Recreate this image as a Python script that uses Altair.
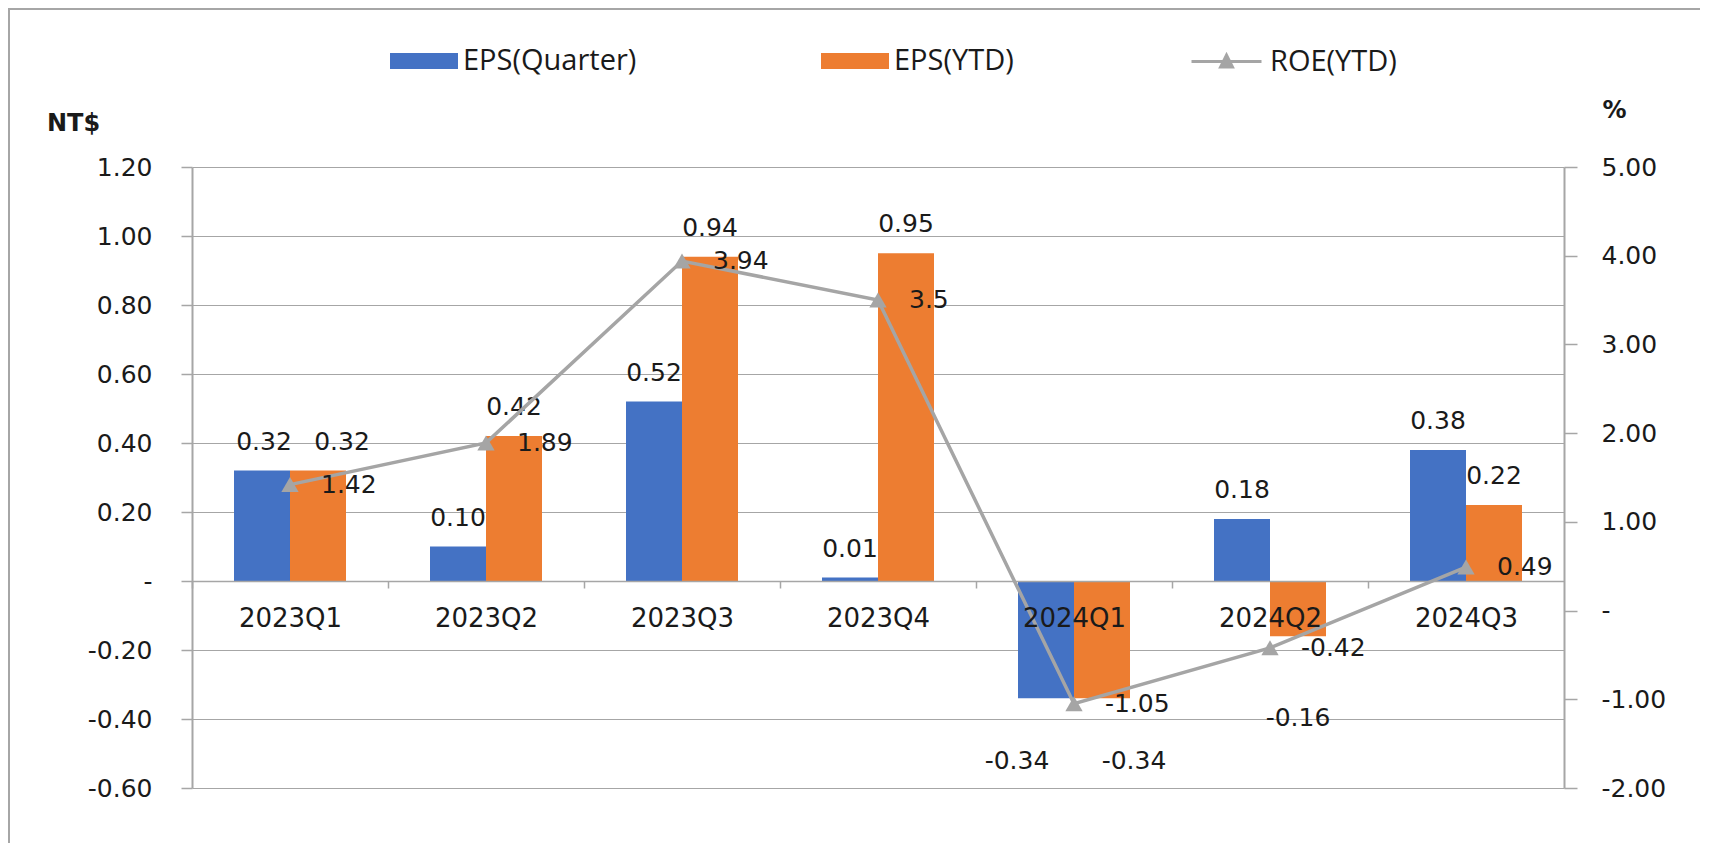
import altair as alt
import pandas as pd

categories = ["2023Q1", "2023Q2", "2023Q3", "2023Q4", "2024Q1", "2024Q2", "2024Q3"]
eps_quarter = [0.32, 0.10, 0.52, 0.01, -0.34, 0.18, 0.38]
eps_ytd = [0.32, 0.42, 0.94, 0.95, -0.34, -0.16, 0.22]
roe_ytd = [1.42, 1.89, 3.94, 3.5, -1.05, -0.42, 0.49]
series_names = ["EPS(Quarter)", "EPS(YTD)"]
roe_name = "ROE(YTD)"
left_ticks = [-0.6, -0.4, -0.2, 0, 0.2, 0.4, 0.6, 0.8, 1.0, 1.2]
right_ticks = [-2, -1, 0, 1, 2, 3, 4, 5]

df_bar = pd.DataFrame({
    "cat": categories * 2,
    "series": [series_names[0]] * len(categories) + [series_names[1]] * len(categories),
    "value": eps_quarter + eps_ytd,
})
df_bar["label"] = df_bar["value"].map(lambda v: f"{v:.2f}")

df_roe = pd.DataFrame({"cat": categories, "roe": roe_ytd, "name": roe_name})
df_roe["label"] = df_roe["roe"].map(lambda v: f"{v:g}")

W, H = 1372, 621
BLUE, ORANGE, LINE = "#4472C4", "#ED7D31", "#A5A5A5"
GRAY = "#A6A6A6"
TXT = "#1a1a1a"
FONT = "DejaVu Sans"
LFONT = "Open Sans"
NB = "\u00a0"

lab_expr = ("datum.value == 0 ? '-" + NB + NB + "' : (datum.value < 0 ? '-' : '') + format(abs(datum.value), '.2f')")
lab_expr_r = ("datum.value == 0 ? '-' : (datum.value < 0 ? '-' : '') + format(abs(datum.value), '.2f')")

x_enc = alt.X(
    "cat:N", sort=categories, title=None,
    scale=alt.Scale(paddingInner=0.4286, paddingOuter=0.2143),
    axis=alt.Axis(offset=-207, domainColor=GRAY, domainWidth=1.5, tickColor=GRAY,
                  tickSize=7, tickWidth=1.5, tickOffset=-98, labelOffset=98,
                  labelPadding=17, labelFont=FONT, labelFontSize=26, labelColor=TXT,
                  labelAngle=0, zindex=1, grid=False),
)
xoff = alt.XOffset("series:N", sort=series_names)

y_left = alt.Y(
    "value:Q", title="NT$",
    scale=alt.Scale(domain=[-0.6, 1.2], nice=False),
    axis=alt.Axis(values=left_ticks, grid=True, gridColor=GRAY, gridWidth=1,
                  domainColor=GRAY, domainWidth=2, tickColor=GRAY, tickSize=11, tickWidth=1.5,
                  labelPadding=29, labelFont=FONT, labelFontSize=25, labelColor=TXT,
                  labelExpr=lab_expr, titleAngle=0, titleX=-119, titleY=-44,
                  titleAlign="center", titleBaseline="middle", titleFont=FONT,
                  titleFontSize=24, titleFontWeight="bold", titleColor=TXT, zindex=0),
)

y_right = alt.Y(
    "roe:Q", title="%",
    scale=alt.Scale(domain=[-2, 5], nice=False),
    axis=alt.Axis(orient="right", values=right_ticks, grid=False,
                  domainColor=GRAY, domainWidth=2, tickColor=GRAY, tickSize=13, tickWidth=1.5,
                  labelPadding=24, labelFont=FONT, labelFontSize=25, labelColor=TXT,
                  labelExpr=lab_expr_r, titleAngle=0, titleX=50, titleY=-57,
                  titleAlign="center", titleBaseline="middle", titleFont=FONT,
                  titleFontSize=24, titleColor=TXT),
)

frame = alt.Chart(alt.Data(values=[{"k": 1}])).mark_rect(
    fill="transparent", stroke=GRAY, strokeWidth=2
).encode(x=alt.value(-183), x2=alt.value(W + 400), y=alt.value(-158), y2=alt.value(H + 200))

bars = alt.Chart(df_bar).mark_bar().encode(
    x=x_enc, xOffset=xoff, y=y_left,
    color=alt.Color("series:N", sort=series_names,
                    scale=alt.Scale(domain=series_names, range=[BLUE, ORANGE]),
                    legend=alt.Legend(title=None, orient="none", legendX=198, legendY=-140,
                                      direction="horizontal", columns=2, columnPadding=184,
                                      symbolType="M-1,-0.235H1V0.235H-1Z", symbolSize=4624,
                                      symbolStrokeWidth=0, labelFont=LFONT, labelFontSize=29,
                                      labelColor=TXT, labelOffset=5, labelLimit=400, padding=0)),
)


def bar_label_layer(cond, dx, dy):
    return alt.Chart(df_bar).transform_joinaggregate(
        vmin="min(value)", vmax="max(value)", groupby=["cat"]
    ).transform_calculate(
        dup="abs(datum.vmax - datum.vmin) < 0.06 ? 1 : 0"
    ).transform_filter(cond).mark_text(
        font=FONT, fontSize=25, color=TXT, baseline="middle", dx=dx, dy=dy
    ).encode(x=x_enc, xOffset=xoff, y=alt.Y("value:Q"), text="label:N")


q_name, y_name = series_names
label_layers = [
    bar_label_layer("datum.value >= 0 && datum.dup == 0", 0, -29),
    bar_label_layer(f"datum.value >= 0 && datum.dup == 1 && datum.series == '{q_name}'", 2, -29),
    bar_label_layer(f"datum.value >= 0 && datum.dup == 1 && datum.series == '{y_name}'", 24, -29),
    bar_label_layer("datum.value < 0 && datum.dup == 0", 0, 82),
    bar_label_layer(f"datum.value < 0 && datum.dup == 1 && datum.series == '{q_name}'", -29, 63),
    bar_label_layer(f"datum.value < 0 && datum.dup == 1 && datum.series == '{y_name}'", 32, 63),
]

left_group = alt.layer(frame, bars, *label_layers)

line = alt.Chart(df_roe).mark_line(strokeWidth=3.5).encode(
    x=x_enc, y=y_right,
    stroke=alt.Stroke("name:N", scale=alt.Scale(domain=[roe_name], range=[LINE]),
                      legend=alt.Legend(title=None, orient="none", legendX=998, legendY=-142,
                                        symbolType="M-1,0H1M-0.17,0.16L0,-0.18L0.17,0.16Z",
                                        symbolSize=4900, symbolStrokeWidth=3,
                                        symbolFillColor=LINE, labelFont=LFONT, labelFontSize=29,
                                        labelColor=TXT, labelOffset=7, labelLimit=400, padding=0)),
)
points = alt.Chart(df_roe).mark_point(shape="triangle-up", filled=True, size=300,
                                      color=LINE, opacity=1).encode(x=x_enc, y=alt.Y("roe:Q"))
roe_labels = alt.Chart(df_roe).mark_text(
    font=FONT, fontSize=25, color=TXT, align="left", baseline="middle", dx=31
).encode(x=x_enc, y=alt.Y("roe:Q"), text="label:N")

right_group = alt.layer(line, points, roe_labels)

chart = alt.layer(left_group, right_group).resolve_scale(y="independent").properties(
    width=W, height=H,
    padding={"left": 184, "top": 159, "right": 136, "bottom": 55},
    autosize=alt.AutoSizeParams(type="none"),
).configure(font=FONT).configure_view(stroke="transparent")

chart.save("out.html", embed_options={"renderer": "svg", "actions": False})
